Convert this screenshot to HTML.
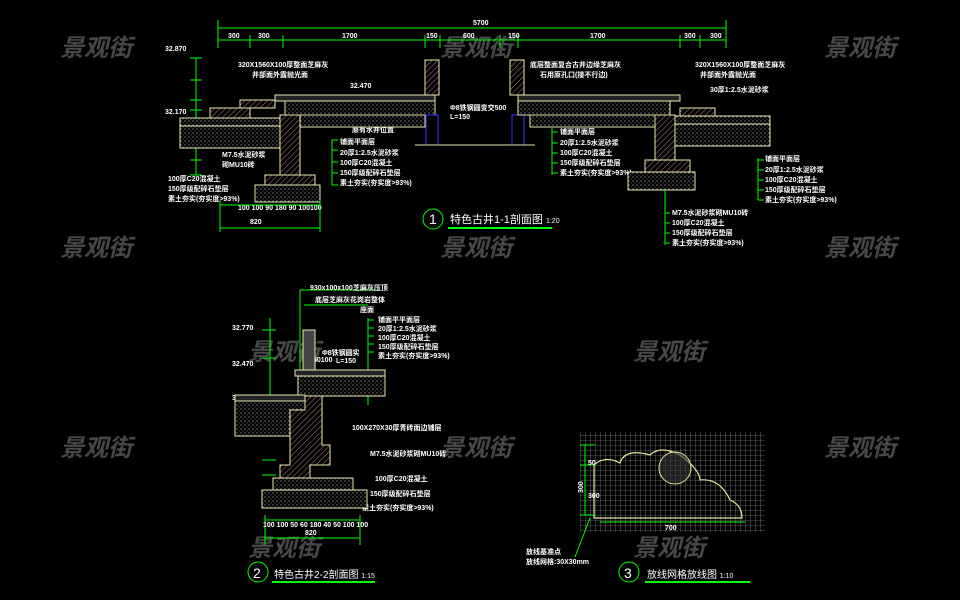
<!DOCTYPE html>
<html><head><meta charset="utf-8"><style>
html,body{margin:0;padding:0;background:#000;}
svg{display:block}
text{font-family:"Liberation Sans","Noto Sans CJK SC",sans-serif;}
.w{fill:#fff;font-size:7px;font-weight:bold}
.g{stroke:#0f0;stroke-width:1;fill:none}
.wm{fill:#484848;font-size:24px;font-weight:bold;font-style:italic;font-family:"Liberation Sans","Noto Sans CJK SC",sans-serif}
.y{stroke:#e8e8b0;stroke-width:1}
</style></head><body>
<svg width="960" height="600" viewBox="0 0 960 600">
<defs>
<pattern id="dot" width="4" height="4" patternUnits="userSpaceOnUse"><rect width="4" height="4" fill="#000"/><circle cx="1" cy="1" r="0.6" fill="#bbb"/><circle cx="3" cy="3" r="0.5" fill="#999"/></pattern>
<pattern id="hat" width="4" height="4" patternUnits="userSpaceOnUse" patternTransform="rotate(45)"><rect width="4" height="4" fill="#000"/><line x1="0" y1="0" x2="0" y2="4" stroke="#d99" stroke-width="0.8"/></pattern>
<pattern id="grid" width="5" height="5" patternUnits="userSpaceOnUse"><rect width="5" height="5" fill="#000"/><path d="M0 0H5M0 0V5" stroke="#aaa" stroke-width="0.6"/></pattern>
</defs>
<g class="wm">
<text x="60" y="56">景观街</text><text x="440" y="56">景观街</text><text x="824" y="56">景观街</text>
<text x="60" y="256">景观街</text><text x="440" y="256">景观街</text><text x="824" y="256">景观街</text>
<text x="248" y="360">景观街</text><text x="633" y="360">景观街</text>
<text x="60" y="456">景观街</text><text x="440" y="456">景观街</text><text x="824" y="456">景观街</text>
<text x="248" y="556">景观街</text><text x="633" y="556">景观街</text>
</g>

<g class="g">
<path d="M218 28H726M218 20V48M726 20V48M218 40H726"/>
<path d="M250 35V48M283 35V48M425 35V48M440 35V48M500 35V48M518 35V48M680 35V48M700 35V48"/>
<path d="M196 58V175M190 58H202M190 80H202M190 100H202M190 110H202M190 120H202M190 140H202M190 160H202M190 175H202"/>
</g>
<g class="w">
<text x="473" y="25">5700</text>
<text x="228" y="38">300</text><text x="258" y="38">300</text><text x="342" y="38">1700</text><text x="426" y="38">150</text><text x="463" y="38">600</text><text x="508" y="38">150</text><text x="590" y="38">1700</text><text x="684" y="38">300</text><text x="710" y="38">300</text>
<text x="165" y="51">32.870</text><text x="165" y="114">32.170</text><text x="350" y="88">32.470</text>
<text x="238" y="67">320X1560X100厚整面芝麻灰</text><text x="252" y="77">井部面外露抛光面</text>
<text x="530" y="67">底层整面复合古井边缘芝麻灰</text><text x="540" y="77">石用原孔口(接不行边)</text>
<text x="695" y="67">320X1560X100厚整面芝麻灰</text><text x="700" y="77">井部面外露抛光面</text><text x="710" y="92">30厚1:2.5水泥砂浆</text>
<text x="450" y="110">Φ8铁钢圆变交500</text><text x="450" y="119">L=150</text>
<text x="352" y="132">原有水井位置</text>
<text x="340" y="144">铺面平面层</text><text x="340" y="155">20厚1:2.5水泥砂浆</text><text x="340" y="165">100厚C20混凝土</text><text x="340" y="175">150厚级配碎石垫层</text><text x="340" y="185">素土夯实(夯实度&gt;93%)</text>
<text x="560" y="134">铺面平面层</text><text x="560" y="145">20厚1:2.5水泥砂浆</text><text x="560" y="155">100厚C20混凝土</text><text x="560" y="165">150厚级配碎石垫层</text><text x="560" y="175">素土夯实(夯实度&gt;93%)</text>
<text x="765" y="161">铺面平面层</text><text x="765" y="172">20厚1:2.5水泥砂浆</text><text x="765" y="182">100厚C20混凝土</text><text x="765" y="192">150厚级配碎石垫层</text><text x="765" y="202">素土夯实(夯实度&gt;93%)</text>
<text x="222" y="157">M7.5水泥砂浆</text><text x="222" y="167">砌MU10砖</text>
<text x="168" y="181">100厚C20混凝土</text><text x="168" y="191">150厚级配碎石垫层</text><text x="168" y="201">素土夯实(夯实度&gt;93%)</text>
<text x="238" y="210">100 100 90 180 90 100100</text><text x="250" y="224">820</text>
<text x="672" y="215">M7.5水泥砂浆砌MU10砖</text><text x="672" y="225">100厚C20混凝土</text><text x="672" y="235">150厚级配碎石垫层</text><text x="672" y="245">素土夯实(夯实度&gt;93%)</text>
</g>
<rect x="180" y="118" width="100" height="8" fill="url(#dot)" class="y"/>
<rect x="180" y="126" width="100" height="22" fill="url(#dot)" class="y"/>
<rect x="210" y="108" width="40" height="10" fill="url(#hat)" class="y"/>
<rect x="240" y="100" width="35" height="8" fill="url(#hat)" class="y"/>
<rect x="275" y="95" width="160" height="6" fill="#222" class="y"/>
<rect x="285" y="101" width="150" height="14" fill="url(#dot)" class="y"/>
<rect x="300" y="115" width="125" height="12" fill="url(#dot)" class="y"/>
<rect x="280" y="115" width="20" height="60" fill="url(#hat)" class="y"/>
<rect x="265" y="175" width="50" height="10" fill="url(#hat)" class="y"/>
<rect x="255" y="185" width="65" height="17" fill="url(#dot)" class="y"/>
<rect x="425" y="60" width="14" height="35" fill="url(#hat)" class="y"/>
<rect x="510" y="60" width="14" height="35" fill="url(#hat)" class="y"/>
<rect x="426" y="115" width="12" height="30" fill="none" stroke="#33f"/>
<rect x="512" y="115" width="12" height="30" fill="none" stroke="#33f"/>
<path d="M415 145H535" class="y"/>
<rect x="518" y="95" width="162" height="6" fill="#222" class="y"/>
<rect x="518" y="101" width="152" height="14" fill="url(#dot)" class="y"/>
<rect x="530" y="115" width="125" height="12" fill="url(#dot)" class="y"/>
<rect x="655" y="115" width="20" height="45" fill="url(#hat)" class="y"/>
<rect x="645" y="160" width="45" height="12" fill="url(#hat)" class="y"/>
<rect x="628" y="172" width="67" height="18" fill="url(#dot)" class="y"/>
<rect x="680" y="108" width="35" height="8" fill="url(#hat)" class="y"/>
<rect x="675" y="116" width="95" height="8" fill="url(#dot)" class="y"/>
<rect x="675" y="124" width="95" height="22" fill="url(#dot)" class="y"/>
<g class="g">
<path d="M332 140V185M332 140H338M332 150H338M332 162H338M332 173H338M332 185H338"/>
<path d="M552 128V175M552 132H558M552 143H558M552 153H558M552 163H558M552 173H558"/>
<path d="M758 158V200M758 160H764M758 170H764M758 180H764M758 190H764M758 200H764"/>
<path d="M665 190V245M665 213H670M665 223H670M665 233H670M665 243H670"/>
<path d="M220 205H320M220 228H320M220 200V232M320 200V232"/>
<circle cx="433" cy="219" r="10"/>
<path d="M448 228H552" stroke-width="2"/>
</g>
<text x="429" y="224" fill="#fff" font-size="14">1</text>
<text x="450" y="223" fill="#fff" font-size="11">特色古井1-1剖面图 <tspan font-size="7">1:20</tspan></text>

<g class="g">
<path d="M270 318V395M262 330H276M262 358H276M262 395H276M262 430H276M262 460H276M262 475H276"/>
<path d="M300 290V380M300 290H380M304 305H368"/>
<path d="M368 318V405M368 320H374M368 328H374M368 336H374M368 344H374M368 352H374"/>
<path d="M265 520H360M265 538H360M265 515V545M360 515V545"/>
<circle cx="258" cy="572" r="10"/>
<path d="M272 582H375" stroke-width="2"/>
</g>
<g class="w">
<text x="310" y="290">930x100x100芝麻灰压顶</text>
<text x="315" y="302">底层芝麻灰花岗岩整体</text><text x="360" y="312">座面</text>
<text x="378" y="322">铺面平平面层</text><text x="378" y="331">20厚1:2.5水泥砂浆</text><text x="378" y="340">100厚C20混凝土</text><text x="378" y="349">150厚级配碎石垫层</text><text x="378" y="358">素土夯实(夯实度&gt;93%)</text>
<text x="322" y="355">Φ8铁钢圆实</text><text x="336" y="363">L=150</text><text x="313" y="362">50100</text>
<text x="232" y="330">32.770</text><text x="232" y="366">32.470</text><text x="232" y="400">32.170</text>
<text x="352" y="430">100X270X30厚青砖面边铺层</text>
<text x="370" y="456">M7.5水泥砂浆砌MU10砖</text>
<text x="375" y="481">100厚C20混凝土</text><text x="370" y="496">150厚级配碎石垫层</text><text x="362" y="510">素土夯实(夯实度&gt;93%)</text>
<text x="263" y="527">100 100 50 60 180 40 50 100 100</text><text x="305" y="535">820</text>
</g>
<rect x="303" y="330" width="12" height="40" fill="#444" class="y"/>
<rect x="295" y="370" width="90" height="6" fill="#222" class="y"/>
<rect x="298" y="376" width="87" height="20" fill="url(#dot)" class="y"/>
<rect x="235" y="395" width="70" height="6" fill="#222" class="y"/>
<rect x="235" y="401" width="70" height="35" fill="url(#dot)" class="y"/>
<path d="M305 396H322V445H330V465H310V480H280V465H290V410H305Z" fill="url(#hat)" class="y"/>
<rect x="273" y="478" width="80" height="12" fill="url(#dot)" class="y"/>
<rect x="262" y="490" width="105" height="18" fill="url(#dot)" class="y"/>
<text x="253" y="578" fill="#fff" font-size="14">2</text>
<text x="274" y="578" fill="#fff" font-size="10">特色古井2-2剖面图 <tspan font-size="7">1:15</tspan></text>

<rect x="580" y="432" width="185" height="100" fill="url(#grid)"/>
<path d="M594 513V465Q605 455 620 463Q625 448 650 455Q660 445 680 455Q700 470 700 480Q720 478 730 500Q742 505 742 518H594Z" fill="none" stroke="#e8e8a0" stroke-width="1.2"/>
<circle cx="675" cy="468" r="16" fill="#333" fill-opacity="0.6" stroke="#e8e8a0"/>
<g class="g">
<path d="M585 445V515M580 445H595M580 465H595M580 515H595M600 522H745M590 518L575 557"/>
<circle cx="629" cy="572" r="10"/>
<path d="M645 582H750" stroke-width="2"/>
</g>
<g class="w">
<text x="570" y="490" transform="rotate(-90 578 485)">300</text><text x="588" y="465">50</text><text x="588" y="498">300</text>
<text x="665" y="530">700</text>
<text x="526" y="554">放线基准点</text><text x="526" y="564">放线网格:30X30mm</text>
</g>
<text x="624" y="578" fill="#fff" font-size="14">3</text>
<text x="647" y="578" fill="#fff" font-size="10">放线网格放线图 <tspan font-size="7">1:10</tspan></text>
</svg>
</body></html>
